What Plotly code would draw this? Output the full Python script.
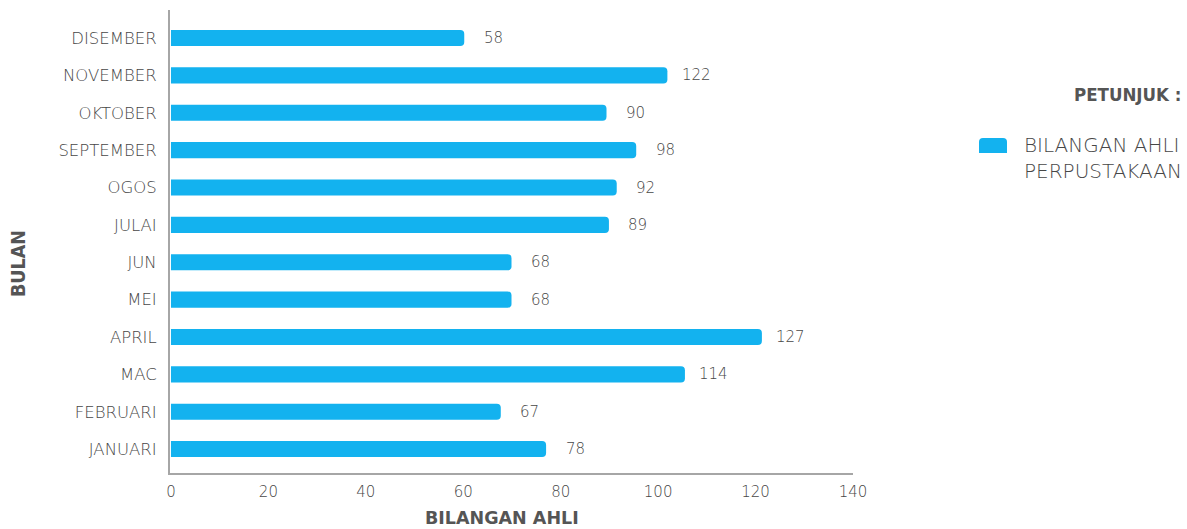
import plotly.graph_objects as go

months = ["JANUARI", "FEBRUARI", "MAC", "APRIL", "MEI", "JUN",
          "JULAI", "OGOS", "SEPTEMBER", "OKTOBER", "NOVEMBER", "DISEMBER"]
bar_lengths = [77, 67.7, 105.5, 121.3, 69.9, 69.9, 89.9, 91.5, 95.5, 89.4, 101.9, 60.2]
value_labels = ["78", "67", "114", "127", "68", "68", "89", "92", "98", "90", "122", "58"]
x_ticks = [0, 20, 40, 60, 80, 100, 120, 140]

BAR = "#13B2EF"
TXT = "#474747"
TXTB = "#555555"
FONT = "'DejaVu Sans ExtraLight', 'DejaVu Sans Light', Lato, sans-serif"
BOLDC = "'DejaVu Sans Condensed', 'DejaVu Sans', sans-serif"
BOLD = "'DejaVu Sans', sans-serif"

fig = go.Figure()
fig.add_trace(go.Bar(
    x=bar_lengths, y=months, orientation="h",
    marker=dict(color=BAR, line=dict(width=0)),
    width=0.43, showlegend=False, hoverinfo="x+y",
))

annotations = []
for m, v, lab in zip(months, bar_lengths, value_labels):
    annotations.append(dict(x=v, y=m, xref="x", yref="y", text=lab, showarrow=False,
                            xanchor="center", yanchor="middle", xshift=29,
                            font=dict(family=FONT, size=15, color=TXT)))

W, H = 1187, 529
L, R, T, B = 170, 1187 - 853, 10, 529 - 473
pw, ph = W - L - R, H - T - B

def px(x):
    return (x - L) / pw

def py(y):
    return (H - B - y) / ph

annotations += [
    dict(x=px(502), y=py(518), xref="paper", yref="paper", text="<b>BILANGAN AHLI</b>",
         showarrow=False, xanchor="center", yanchor="middle",
         font=dict(family=BOLD, size=17.5, color=TXTB)),
    dict(x=px(18), y=py(264), xref="paper", yref="paper", text="<b>BULAN</b>", textangle=-90,
         showarrow=False, xanchor="center", yanchor="middle",
         font=dict(family=BOLDC, size=19.5, color=TXTB)),
    dict(x=px(1183), y=py(95), xref="paper", yref="paper", text="<b>PETUNJUK :</b>",
         showarrow=False, xanchor="right", yanchor="middle",
         font=dict(family=BOLDC, size=18.5, color=TXTB)),
    dict(x=px(1022), y=py(158), xref="paper", yref="paper",
         text="BILANGAN AHLI<br>PERPUSTAKAAN", align="left",
         showarrow=False, xanchor="left", yanchor="middle",
         font=dict(family=FONT, size=20, color=TXT)),
]

shapes = [dict(type="path", xref="paper", yref="paper", xsizemode="pixel", ysizemode="pixel",
               xanchor=px(979), yanchor=py(153),
               path="M 0 0 L 28 0 L 28 11 Q 28 15 24 15 L 4 15 Q 0 15 0 11 Z",
               fillcolor=BAR, line=dict(width=0))]

fig.update_layout(
    width=W, height=H,
    margin=dict(l=L, r=R, t=T, b=B, pad=0),
    paper_bgcolor="white", plot_bgcolor="white",
    barcornerradius=4,
    annotations=annotations, shapes=shapes,
    xaxis=dict(range=[-0.2, 140], tickvals=x_ticks, showgrid=False, zeroline=False,
               showline=True, linecolor="#A6A6A6", linewidth=2,
               ticks="outside", ticklen=4, tickcolor="rgba(0,0,0,0)",
               tickfont=dict(family=FONT, size=15, color=TXT)),
    yaxis=dict(categoryorder="array", categoryarray=months, range=[-0.64, 11.75],
               showgrid=False, zeroline=False, showline=True, linecolor="#A6A6A6", linewidth=2,
               ticks="outside", ticklen=8, tickcolor="rgba(0,0,0,0)",
               tickfont=dict(family=FONT, size=16.5, color=TXT)),
)

fig.write_html("out.html", config={"displayModeBar": False},
               post_script="document.body.style.margin='0';document.body.style.overflow='hidden';")
